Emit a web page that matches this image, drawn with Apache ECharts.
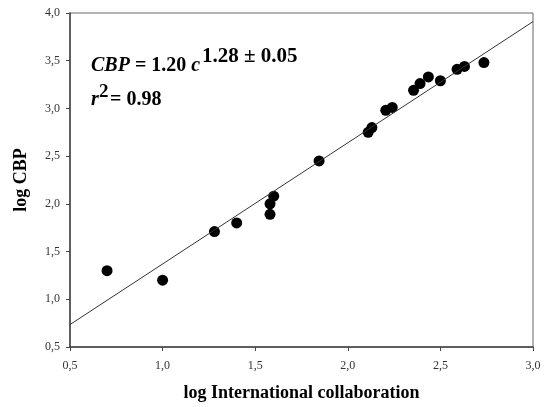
<!DOCTYPE html>
<html>
<head>
<meta charset="utf-8">
<script src="https://cdn.jsdelivr.net/npm/echarts@6/dist/echarts.min.js"></script>
<style>
  html, body { margin: 0; padding: 0; background: #fff; }
  #chart { width: 547px; height: 407px; }
</style>
</head>
<body>
<div id="chart"></div>
<script>
// log International collaboration vs log CBP
var logCollab = [0.70, 1.00, 1.28, 1.40, 1.58, 1.58, 1.60, 1.845, 2.11, 2.13, 2.205, 2.24, 2.355, 2.39, 2.435, 2.50, 2.59, 2.63, 2.735];
var logCBP    = [1.30, 1.20, 1.71, 1.80, 1.89, 2.00, 2.08, 2.45, 2.75, 2.80, 2.98, 3.01, 3.19, 3.26, 3.33, 3.29, 3.41, 3.44, 3.48];
// fitted line end points
var fitX = [0.5, 3.0];
var fitY = [0.735, 3.91];
var xTicks = [0.5, 1.0, 1.5, 2.0, 2.5, 3.0];
var yTicks = [0.5, 1.0, 1.5, 2.0, 2.5, 3.0, 3.5, 4.0];

var serif = '"Liberation Serif", "Times New Roman", serif';
function comma(v) { return v.toFixed(1).replace('.', ','); }

var points = logCollab.map(function (x, i) { return [x, logCBP[i]]; });
var line = fitX.map(function (x, i) { return [x, fitY[i]]; });

var myChart = echarts.init(document.getElementById('chart'));
var option = {
  animation: false,
  grid: {
    left: 70, top: 13, right: 14, bottom: 60,
    show: true, borderColor: '#666', borderWidth: 1
  },
  xAxis: {
    type: 'value',
    min: xTicks[0], max: xTicks[xTicks.length - 1], interval: 0.5,
    name: 'log International collaboration',
    nameLocation: 'middle', nameGap: 37,
    nameTextStyle: { fontFamily: serif, fontWeight: 'bold', fontSize: 18, color: '#000' },
    axisLine: { lineStyle: { color: '#444', width: 1.5 } },
    axisTick: { show: true, length: 4, lineStyle: { color: '#444' } },
    axisLabel: { formatter: comma, fontFamily: serif, fontSize: 12, color: '#333', margin: 13 },
    splitLine: { show: false }
  },
  yAxis: {
    type: 'value',
    min: yTicks[0], max: yTicks[yTicks.length - 1], interval: 0.5,
    name: 'log CBP',
    nameLocation: 'middle', nameGap: 40,
    nameTextStyle: { fontFamily: serif, fontWeight: 'bold', fontSize: 18, color: '#000' },
    axisLine: { lineStyle: { color: '#444', width: 1.5 } },
    axisTick: { show: true, length: 4, lineStyle: { color: '#444' } },
    axisLabel: { formatter: comma, fontFamily: serif, fontSize: 12, color: '#333', margin: 10 },
    splitLine: { show: false }
  },
  series: [
    {
      type: 'line',
      data: line,
      symbol: 'none',
      lineStyle: { color: '#333', width: 1 },
      silent: true
    },
    {
      type: 'scatter',
      data: points,
      symbol: 'circle',
      symbolSize: 11,
      itemStyle: { color: '#000', opacity: 1 }
    }
  ],
  graphic: [
    {
      type: 'text', left: 91, top: 56,
      style: {
        text: '{i|CBP} = 1.20 {i|c}',
        font: 'bold 20px ' + serif, fill: '#000',
        rich: { i: { fontStyle: 'italic', fontWeight: 'bold', fontSize: 20, fontFamily: serif } }
      }
    },
    { type: 'text', left: 202, top: 46, style: { text: '1.28 \u00b1 0.05', font: 'bold 21px ' + serif, fill: '#000' } },
    { type: 'text', left: 91, top: 90, style: { text: 'r', font: 'italic bold 20px ' + serif, fill: '#000' } },
    { type: 'text', left: 99, top: 83, style: { text: '2', font: 'bold 19px ' + serif, fill: '#000' } },
    { type: 'text', left: 110, top: 90, style: { text: '= 0.98', font: 'bold 20px ' + serif, fill: '#000' } }
  ]
};
myChart.setOption(option);
</script>
</body>
</html>
